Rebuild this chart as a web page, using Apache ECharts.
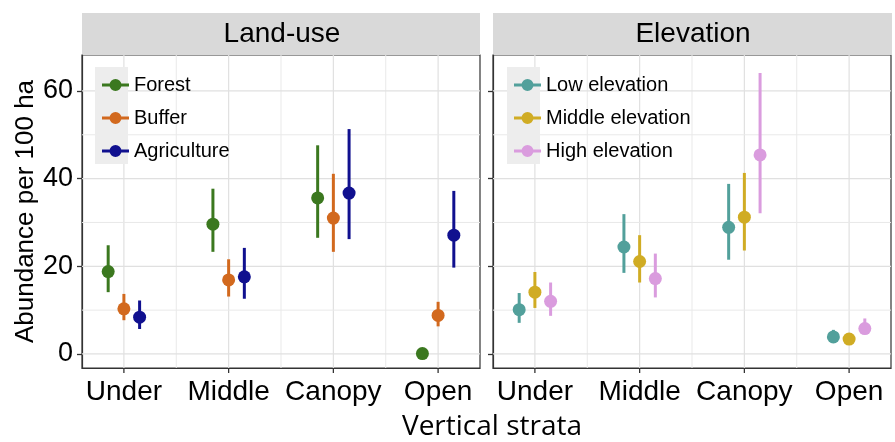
<!DOCTYPE html>
<html>
<head>
<meta charset="utf-8">
<script src="https://cdn.jsdelivr.net/npm/echarts@6/dist/echarts.min.js"></script>
<style>html,body{margin:0;padding:0;background:#fff}#c{width:895px;height:442px}</style>
</head>
<body>
<div id="c"></div>
<script>
// ---- data ----
const categories = ['Under', 'Middle', 'Canopy', 'Open'];
const yTicks = [0, 20, 40, 60];
const xTicks = [1, 2, 3, 4];
const xGridValues = [1, 1.5, 2, 2.5, 3, 3.5, 4];
const yGridValues = [0, 10, 20, 30, 40, 50, 60];

const landUseNames = ['Forest', 'Buffer', 'Agriculture'];
const forestMean = [18.8, 29.6, 35.6, 0.1];
const forestLow  = [14.1, 23.3, 26.5, 0.0];
const forestHigh = [24.8, 37.7, 47.6, 0.6];
const bufferMean = [10.3, 16.9, 31.0, 8.8];
const bufferLow  = [7.7, 13.1, 23.3, 6.3];
const bufferHigh = [13.7, 21.6, 41.1, 11.9];
const agriMean = [8.4, 17.6, 36.7, 27.1];
const agriLow  = [5.7, 12.6, 26.2, 19.7];
const agriHigh = [12.2, 24.2, 51.3, 37.2];

const elevNames = ['Low elevation', 'Middle elevation', 'High elevation'];
const lowMean = [10.1, 24.4, 28.9, 3.9];
const lowLow  = [7.1, 18.5, 21.5, 3.0];
const lowHigh = [13.9, 31.9, 38.8, 5.5];
const midMean = [14.1, 21.1, 31.2, 3.4];
const midLow  = [10.5, 16.3, 23.6, 2.6];
const midHigh = [18.7, 27.1, 41.3, 4.3];
const highMean = [12.0, 17.2, 45.4, 5.8];
const highLow  = [8.7, 12.9, 32.1, 4.5];
const highHigh = [16.3, 22.9, 64.1, 8.1];

// ---- styles ----
const landColors = ['#3B781F', '#D2691E', '#10108F'];
const elevColors = ['#52A09B', '#D0AC24', '#DA9CDE'];
const dodge = [-0.15, 0, 0.15];
const FONT = '"Liberation Sans", Arial, sans-serif';
const Y_MIN = -3.2, Y_MAX = 68.2;

const groups = [
  {grid: 0, names: landUseNames, colors: landColors,
   means: [forestMean, bufferMean, agriMean], lows: [forestLow, bufferLow, agriLow], highs: [forestHigh, bufferHigh, agriHigh]},
  {grid: 1, names: elevNames, colors: elevColors,
   means: [lowMean, midMean, highMean], lows: [lowLow, midLow, highLow], highs: [lowHigh, midHigh, highHigh]}
];

const series = [];
[0, 1].forEach(g => {
  series.push({
    type: 'custom', xAxisIndex: g, yAxisIndex: g, silent: true, z: 1,
    data: xGridValues.map(v => [v]),
    renderItem: (params, api) => {
      const v = api.value(0);
      const cs = params.coordSys;
      const x = api.coord([v, 0])[0];
      const major = Number.isInteger(v);
      return {type: 'line', shape: {x1: x, y1: cs.y, x2: x, y2: cs.y + cs.height},
              style: {stroke: major ? '#e0e0e0' : '#e9e9e9', lineWidth: major ? 1.2 : 1}};
    }
  });
  series.push({
    type: 'custom', xAxisIndex: g, yAxisIndex: g, silent: true, z: 1,
    data: yGridValues.map(v => [1, v]),
    renderItem: (params, api) => {
      const v = api.value(1);
      const cs = params.coordSys;
      const y = api.coord([1, v])[1];
      const major = v % 20 === 0;
      return {type: 'line', shape: {x1: cs.x, y1: y, x2: cs.x + cs.width, y2: y},
              style: {stroke: major ? '#e0e0e0' : '#e9e9e9', lineWidth: major ? 1.2 : 1}};
    }
  });
});

groups.forEach(gr => {
  gr.names.forEach((name, i) => {
    const color = gr.colors[i];
    series.push({
      name: name, type: 'custom', xAxisIndex: gr.grid, yAxisIndex: gr.grid, z: 3,
      itemStyle: {color: color},
      encode: {x: 0, y: [1, 2]},
      data: categories.map((c, k) => [k + 1 + dodge[i], gr.lows[i][k], gr.highs[i][k]]),
      renderItem: (params, api) => {
        const x = api.value(0);
        const p1 = api.coord([x, api.value(1)]);
        const p2 = api.coord([x, api.value(2)]);
        return {type: 'line', shape: {x1: p1[0], y1: p1[1], x2: p2[0], y2: p2[1]},
                style: {stroke: color, lineWidth: 3}};
      }
    });
    series.push({
      name: name, type: 'scatter', xAxisIndex: gr.grid, yAxisIndex: gr.grid, z: 4,
      symbol: 'circle', symbolSize: 13,
      itemStyle: {color: color, opacity: 1},
      data: categories.map((c, k) => [k + 1 + dodge[i], gr.means[i][k]])
    });
  });
});

const grids = [
  {left: 82, top: 55, width: 398, height: 313},
  {left: 493, top: 55, width: 398, height: 313}
].map(g => Object.assign(g, {show: true, borderColor: '#333', borderWidth: 1.2, backgroundColor: '#fff', containLabel: false}));

const xAxes = [0, 1].map(g => ({
  type: 'value', gridIndex: g, min: 0.6, max: 4.4, position: 'bottom',
  axisLine: {show: true, onZero: false, lineStyle: {color: '#333', width: 1.2}},
  splitLine: {show: false},
  axisTick: {show: false},
  axisLabel: {show: true, customValues: xTicks, margin: 10,
    formatter: v => categories[Math.round(v) - 1] || '',
    color: '#000', fontSize: 28, fontFamily: FONT}
}));

const yAxes = [0, 1].map(g => ({
  type: 'value', gridIndex: g, min: Y_MIN, max: Y_MAX,
  axisLine: {show: true, onZero: false, lineStyle: {color: '#333', width: 1.2}},
  splitLine: {show: false},
  axisTick: {show: true, customValues: yTicks, length: 5, lineStyle: {color: '#333', width: 1.3}},
  axisLabel: {show: g === 0, customValues: yTicks, margin: 9, color: '#000', fontSize: 27, fontFamily: FONT},
  name: g === 0 ? 'Abundance per 100 ha' : '',
  nameLocation: 'middle', nameGap: 37, nameRotate: 90,
  nameTextStyle: {color: '#000', fontSize: 26, fontFamily: FONT}
}));

const legendIcon = 'path://M0,4.5 L27,4.5 L27,7.5 L0,7.5 Z M7.5,6 A6,6 0 1,1 19.5,6 A6,6 0 1,1 7.5,6 Z';
const legends = [
  {data: landUseNames, left: 97},
  {data: elevNames, left: 509}
].map(l => Object.assign(l, {
  orient: 'vertical', top: 70, itemWidth: 27, itemHeight: 12, itemGap: 13,
  icon: legendIcon, selectedMode: false,
  textStyle: {color: '#000', fontSize: 20, fontFamily: FONT}
}));

const graphic = [
  {type: 'rect', shape: {x: 82, y: 13, width: 398, height: 42}, style: {fill: '#d9d9d9'}, z: 0},
  {type: 'rect', shape: {x: 493, y: 13, width: 399, height: 42}, style: {fill: '#d9d9d9'}, z: 0},
  {type: 'text', x: 282, y: 34, style: {text: 'Land-use', fill: '#000', font: '28px ' + FONT, textAlign: 'center', textVerticalAlign: 'middle'}, z: 5},
  {type: 'text', x: 693, y: 34, style: {text: 'Elevation', fill: '#000', font: '28px ' + FONT, textAlign: 'center', textVerticalAlign: 'middle'}, z: 5},
  {type: 'rect', shape: {x: 95, y: 67, width: 33, height: 97}, style: {fill: '#ededed'}, z: 3},
  {type: 'rect', shape: {x: 507, y: 67, width: 33, height: 97}, style: {fill: '#ededed'}, z: 3},
  {type: 'text', x: 492, y: 427, style: {text: 'Vertical strata', fill: '#000', font: '28px "Open Sans", sans-serif', textAlign: 'center', textVerticalAlign: 'middle'}, z: 5}
];

const chart = echarts.init(document.getElementById('c'), null, {renderer: 'canvas'});
chart.setOption({
  animation: false,
  backgroundColor: '#fff',
  grid: grids, xAxis: xAxes, yAxis: yAxes,
  legend: legends, graphic: graphic, series: series
});

// x-axis tick marks, positioned through the chart's own scales
const tickEls = [];
[0, 1].forEach(g => {
  xTicks.forEach(v => {
    const p = chart.convertToPixel({gridIndex: g}, [v, Y_MIN]);
    if (p) {
      tickEls.push({type: 'line', shape: {x1: p[0], y1: p[1], x2: p[0], y2: p[1] + 5},
                    style: {stroke: '#333', lineWidth: 1.3}, z: 10});
    }
  });
});
chart.setOption({graphic: graphic.concat(tickEls)});
</script>
</body>
</html>
